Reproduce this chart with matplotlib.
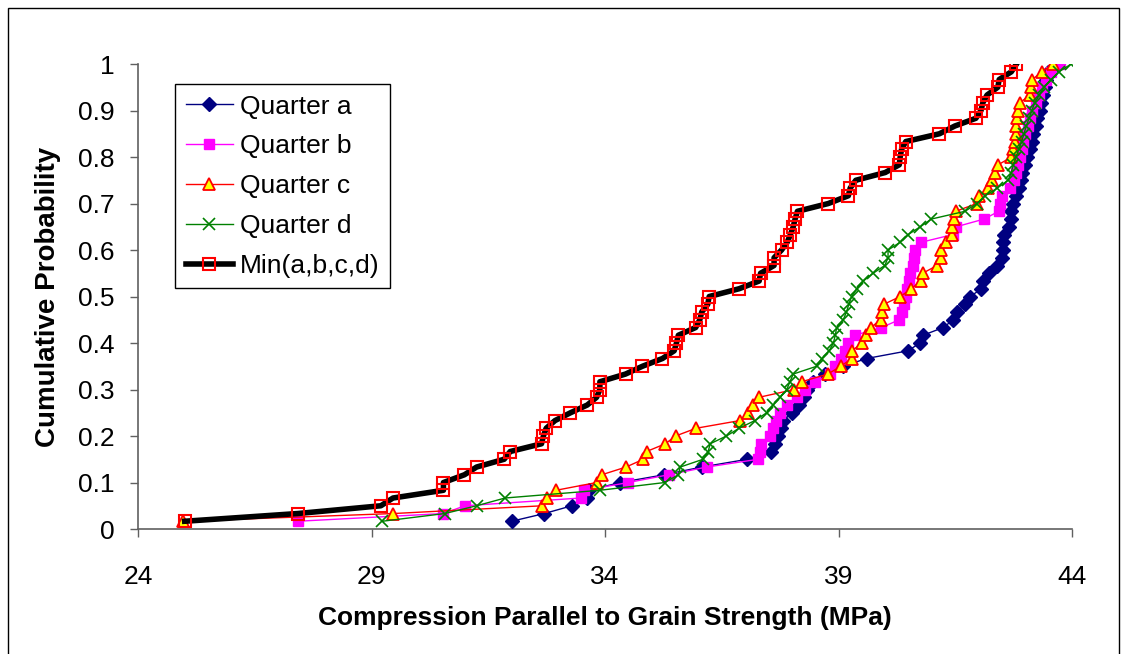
import matplotlib
matplotlib.use('Agg')
import matplotlib.pyplot as plt
from matplotlib.patches import Rectangle

# cumulative probability levels (rank / 60)
prob = [0.0167, 0.0333, 0.05, 0.0667, 0.0833, 0.1, 0.1167, 0.1333, 0.15, 0.1667,
        0.1833, 0.2, 0.2167, 0.2333, 0.25, 0.2667, 0.2833, 0.3, 0.3167, 0.3333,
        0.35, 0.3667, 0.3833, 0.4, 0.4167, 0.4333, 0.45, 0.4667, 0.4833, 0.5,
        0.5167, 0.5333, 0.55, 0.5667, 0.5833, 0.6, 0.6167, 0.6333, 0.65, 0.6667,
        0.6833, 0.7, 0.7167, 0.7333, 0.75, 0.7667, 0.7833, 0.8, 0.8167, 0.8333,
        0.85, 0.8667, 0.8833, 0.9, 0.9167, 0.9333, 0.95, 0.9667, 0.9833, 1.0]

quarter_a = [32.0, 32.70, 33.29, 33.61, 33.66, 34.32, 35.27, 36.07, 37.05, 37.55,
             37.64, 37.70, 37.76, 37.82, 38.0, 38.16, 38.25, 38.33, 38.45, 38.71,
             39.10, 39.60, 40.49, 40.74, 40.81, 41.24, 41.46, 41.53, 41.71, 41.82,
             42.06, 42.10, 42.23, 42.40, 42.50, 42.52, 42.53, 42.55, 42.64, 42.69,
             42.70, 42.74, 42.80, 42.86, 42.90, 42.93, 42.99, 43.04, 43.10, 43.14,
             43.17, 43.22, 43.26, 43.31, 43.34, 43.38, 43.42, 43.45, 43.49, 43.68]

quarter_b = [27.42, 30.54, 31.0, 33.48, 33.55, 34.5, 35.36, 36.18, 37.28, 37.32,
             37.35, 37.53, 37.60, 37.67, 37.75, 37.89, 38.10, 38.29, 38.50, 38.82,
             38.93, 39.05, 39.14, 39.21, 39.35, 39.92, 40.30, 40.35, 40.40, 40.45,
             40.47, 40.51, 40.54, 40.59, 40.62, 40.64, 40.77, 41.45, 41.52, 42.12,
             42.43, 42.46, 42.50, 42.67, 42.75, 42.80, 42.85, 42.88, 42.92, 42.95,
             43.0, 43.05, 43.1, 43.15, 43.22, 43.3, 43.36, 43.45, 43.55, 43.74]

quarter_c = [24.96, 29.47, 32.66, 32.76, 32.95, 33.82, 33.93, 34.45, 34.82, 34.89,
             35.29, 35.51, 35.95, 36.89, 37.07, 37.16, 37.30, 38.05, 38.21, 38.77,
             39.05, 39.28, 39.28, 39.51, 39.58, 39.69, 39.90, 39.94, 39.97, 40.32,
             40.56, 40.76, 40.80, 41.11, 41.19, 41.19, 41.30, 41.42, 41.44, 41.48,
             41.51, 41.96, 42.01, 42.20, 42.29, 42.36, 42.42, 42.70, 42.74, 42.77,
             42.79, 42.81, 42.82, 42.84, 42.88, 43.10, 43.13, 43.15, 43.35, 43.60]

quarter_d = [29.23, 30.57, 31.25, 31.86, 33.89, 35.28, 35.57, 35.61, 36.10, 36.21,
             36.25, 36.60, 36.87, 37.21, 37.46, 37.60, 37.75, 37.89, 37.96, 38.03,
             38.53, 38.64, 38.80, 38.89, 38.93, 38.96, 39.10, 39.17, 39.22, 39.28,
             39.39, 39.53, 39.74, 39.99, 40.06, 40.06, 40.32, 40.49, 40.75, 40.99,
             41.71, 41.96, 42.14, 42.40, 42.63, 42.70, 42.74, 42.80, 42.86, 42.92,
             42.97, 43.02, 43.08, 43.14, 43.20, 43.30, 43.40, 43.55, 43.72, 43.98]

min_abcd = [25.0, 27.42, 29.2, 29.46, 30.54, 30.54, 30.99, 31.25, 31.84, 31.97,
            32.64, 32.68, 32.74, 32.93, 33.26, 33.62, 33.82, 33.89, 33.89, 34.44,
            34.80, 35.23, 35.48, 35.53, 35.57, 35.94, 36.03, 36.07, 36.20, 36.23,
            36.87, 37.30, 37.33, 37.62, 37.62, 37.78, 37.90, 37.97, 38.03, 38.07,
            38.12, 38.78, 39.21, 39.25, 39.37, 40.0, 40.3, 40.32, 40.35, 40.44,
            41.16, 41.49, 41.94, 42.05, 42.09, 42.18, 42.41, 42.44, 42.70, 42.81]

x_ticks = [24, 29, 34, 39, 44]
y_ticks = [0, 0.1, 0.2, 0.3, 0.4, 0.5, 0.6, 0.7, 0.8, 0.9, 1]
y_ticklabels = ['0', '0.1', '0.2', '0.3', '0.4', '0.5', '0.6', '0.7', '0.8', '0.9', '1']

plt.rcParams['font.family'] = ['Liberation Sans', 'DejaVu Sans']

fig = plt.figure(figsize=(11.33, 6.54), dpi=100)
ax = fig.add_axes([0.1218, 0.1911, 0.8244, 0.7110])

ax.plot(quarter_a, prob, color='#000080', lw=1, marker='D', ms=7,
        mfc='#000080', mec='#000080', label='Quarter a', zorder=3)
ax.plot(quarter_b, prob, color='#FF00FF', lw=1, marker='s', ms=7,
        mfc='#FF00FF', mec='#FF00FF', label='Quarter b', zorder=4)
ax.plot(quarter_c, prob, color='#FF0000', lw=1, marker='^', ms=9,
        mfc='#FFFF00', mec='#FF0000', mew=1.3, label='Quarter c', zorder=5)
ax.plot(quarter_d, prob, color='#008000', lw=1, marker='x', ms=8.5,
        mec='#008000', mew=1.2, label='Quarter d', zorder=6)
ax.plot(min_abcd, prob, color='black', lw=4, marker='s', ms=8,
        mfc='none', mec='#FF0000', mew=1.5, label='Min(a,b,c,d)', zorder=7)

ax.set_xlim(24, 44)
ax.set_ylim(0, 1)
ax.set_xticks(x_ticks)
ax.set_yticks(y_ticks)
ax.set_yticklabels(y_ticklabels)
ax.tick_params(labelsize=19, direction='out', length=6, width=1, color='#606060')
ax.tick_params(axis='x', pad=20)
ax.tick_params(axis='y', pad=11)
for side in ['top', 'right']:
    ax.spines[side].set_visible(False)
for side in ['left', 'bottom']:
    ax.spines[side].set_color('#606060')
    ax.spines[side].set_linewidth(1.2)

ax.set_xlabel('Compression Parallel to Grain Strength (MPa)', fontsize=19,
              fontweight='bold', labelpad=12)
ax.set_ylabel('Cumulative Probability', fontsize=20, fontweight='bold', labelpad=12)

leg = ax.legend(loc='upper left', bbox_to_anchor=(175 / 1133, 1 - 84 / 654),
                bbox_transform=fig.transFigure, borderaxespad=0, fontsize=19,
                frameon=True, fancybox=False, edgecolor='black', framealpha=1,
                handlelength=1.8, handletextpad=0.25, labelspacing=0.6,
                borderpad=0.4)
leg.get_frame().set_linewidth(1)

# chart area border
fig.patches.append(Rectangle((8 / 1133, -0.05), 1111 / 1133, 1.05 - 8 / 654,
                             transform=fig.transFigure, fill=False,
                             edgecolor='black', lw=1))

fig.savefig('out.png', dpi=100)
